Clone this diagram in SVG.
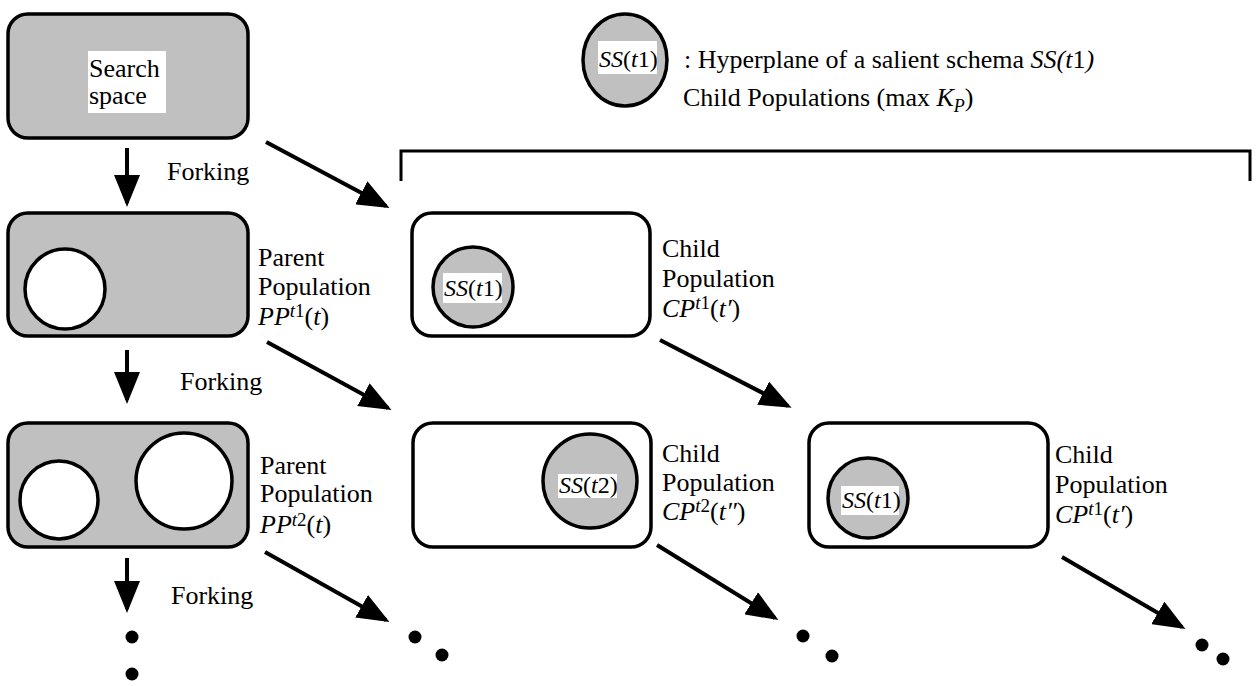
<svg xmlns="http://www.w3.org/2000/svg" width="1257" height="686" viewBox="0 0 1257 686">
<style>
text{font-family:"Liberation Serif","Times New Roman",serif;font-size:26px;fill:#000}
.lbl{font-size:24px}
.it{font-style:italic}
.sup{font-size:19px}
.box{stroke:#000;stroke-width:3.5}
.gray{fill:#c0c0c0}
.white{fill:#fff}
.bg{fill:#fff;stroke:none}
.arr{stroke:#000;stroke-width:4;fill:none;marker-end:url(#ah)}
.dot{fill:#000}
</style>
<defs>
<marker id="ah" viewBox="0 0 32 26" refX="28" refY="13" markerWidth="32" markerHeight="26" markerUnits="userSpaceOnUse" orient="auto">
<path d="M0,0 L32,13 L0,26 z" fill="#000"/>
</marker>
</defs>
<rect width="1257" height="686" fill="#fff"/>

<g id="legend">
<ellipse cx="625" cy="60" rx="42" ry="46" class="box gray"/>
<rect x="598" y="41" width="59" height="33" class="bg"/>
<text x="599" y="67" class="lbl"><tspan class="it">SS</tspan>(<tspan class="it">t</tspan>1)</text>
<text x="684" y="68">: Hyperplane of a salient schema <tspan class="it">SS(t</tspan>1<tspan class="it">)</tspan></text>
</g>

<g id="bracket">
<text x="683" y="106">Child Populations (max <tspan class="it">K</tspan><tspan class="it" font-size="18" dy="6">P</tspan><tspan dy="-6">)</tspan></text>
<path d="M401,181 V151 H1250 V181" fill="none" stroke="#000" stroke-width="3"/>
</g>

<g id="search-space">
<rect x="8" y="14" width="240" height="124" rx="20" class="box gray"/>
<rect x="88" y="51" width="78" height="62" class="bg"/>
<text x="89" y="77">Search</text>
<text x="89" y="104">space</text>
</g>

<g id="parent1">
<rect x="8" y="213" width="240" height="123" rx="20" class="box gray"/>
<circle cx="65" cy="289" r="40" class="box white"/>
<text x="258" y="266">Parent</text>
<text x="258" y="295">Population</text>
<text x="258" y="325"><tspan class="it">PP</tspan><tspan class="sup" dy="-8"><tspan class="it">t</tspan>1</tspan><tspan dy="8">(</tspan><tspan class="it">t</tspan>)</text>
</g>

<g id="parent2">
<rect x="8" y="423" width="240" height="124" rx="20" class="box gray"/>
<circle cx="59" cy="500" r="39" class="box white"/>
<circle cx="184" cy="481" r="48" class="box white"/>
<text x="260" y="474">Parent</text>
<text x="260" y="502">Population</text>
<text x="260" y="533"><tspan class="it">PP</tspan><tspan class="sup" dy="-7"><tspan class="it">t</tspan>2</tspan><tspan dy="7">(</tspan><tspan class="it">t</tspan>)</text>
</g>

<g id="child1">
<rect x="412" y="213" width="238" height="123" rx="20" class="box white"/>
<circle cx="473" cy="287" r="40" class="box gray"/>
<rect x="443" y="273" width="59" height="30" class="bg"/>
<text x="444" y="296" class="lbl"><tspan class="it">SS</tspan>(<tspan class="it">t</tspan>1)</text>
<text x="662" y="257">Child</text>
<text x="662" y="287">Population</text>
<text x="662" y="317"><tspan class="it">CP</tspan><tspan class="sup" dy="-8"><tspan class="it">t</tspan>1</tspan><tspan dy="8">(</tspan><tspan class="it">t′</tspan>)</text>
</g>

<g id="child2">
<rect x="413" y="423" width="238" height="124" rx="20" class="box white"/>
<circle cx="590" cy="481" r="47" class="box gray"/>
<rect x="558" y="474" width="59" height="24" class="bg"/>
<text x="559" y="493" class="lbl"><tspan class="it">SS</tspan>(<tspan class="it">t</tspan>2)</text>
<text x="662" y="462">Child</text>
<text x="662" y="491">Population</text>
<text x="662" y="520"><tspan class="it">CP</tspan><tspan class="sup" dy="-8"><tspan class="it">t</tspan>2</tspan><tspan dy="8">(</tspan><tspan class="it">t″</tspan>)</text>
</g>

<g id="child3">
<rect x="809" y="423" width="239" height="124" rx="20" class="box white"/>
<circle cx="868" cy="498" r="40" class="box gray"/>
<rect x="841" y="486" width="58" height="29" class="bg"/>
<text x="842" y="508" class="lbl"><tspan class="it">SS</tspan>(<tspan class="it">t</tspan>1)</text>
<text x="1055" y="463">Child</text>
<text x="1055" y="493">Population</text>
<text x="1055" y="523"><tspan class="it">CP</tspan><tspan class="sup" dy="-8"><tspan class="it">t</tspan>1</tspan><tspan dy="8">(</tspan><tspan class="it">t′</tspan>)</text>
</g>

<g id="connectors">
<line x1="127" y1="148" x2="127" y2="203" class="arr"/>
<line x1="127" y1="350" x2="127" y2="400" class="arr"/>
<line x1="127" y1="558" x2="127" y2="609" class="arr"/>
<line x1="266" y1="142" x2="386" y2="206" class="arr"/>
<line x1="267" y1="342" x2="388" y2="408" class="arr"/>
<line x1="265" y1="552" x2="386" y2="620" class="arr"/>
<line x1="660" y1="340" x2="788" y2="406" class="arr"/>
<line x1="657" y1="545" x2="775" y2="618" class="arr"/>
<line x1="1062" y1="557" x2="1182" y2="627" class="arr"/>
<text x="167" y="180">Forking</text>
<text x="180" y="390">Forking</text>
<text x="171" y="604">Forking</text>
</g>

<g id="ellipsis">
<circle cx="132" cy="637" r="6.5" class="dot"/>
<circle cx="132" cy="674" r="6.5" class="dot"/>
<circle cx="415" cy="637" r="6.5" class="dot"/>
<circle cx="442" cy="655" r="6.5" class="dot"/>
<circle cx="803" cy="636" r="6.5" class="dot"/>
<circle cx="832" cy="656" r="6.5" class="dot"/>
<circle cx="1202" cy="645" r="6.5" class="dot"/>
<circle cx="1223" cy="659" r="6.5" class="dot"/>
</g>
</svg>
